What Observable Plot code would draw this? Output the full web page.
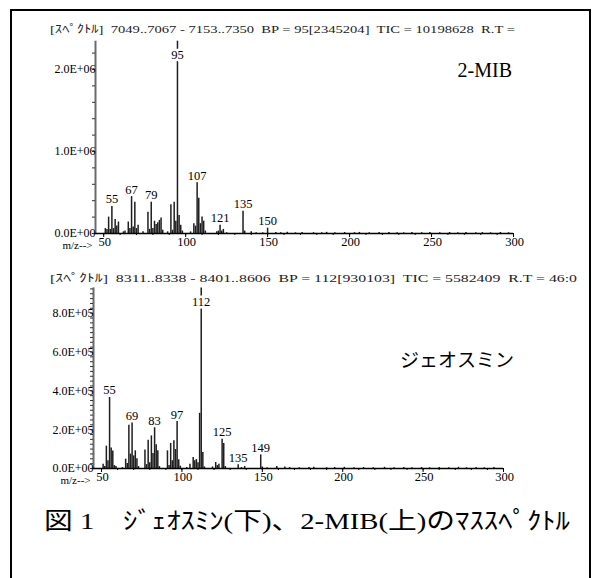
<!DOCTYPE html>
<html><head><meta charset="utf-8">
<script src="https://cdn.jsdelivr.net/npm/d3@7"></script>
<script src="https://cdn.jsdelivr.net/npm/@observablehq/plot@0.6"></script>
<style>
html,body{margin:0;padding:0;background:#fff;}
#wrap{position:relative;width:598px;height:578px;overflow:hidden;background:#fff;}
#frame{position:absolute;left:10px;top:9px;width:581px;height:620px;border:2px solid #000;box-sizing:border-box;}
.abs{position:absolute;left:0;}
svg{overflow:visible;}
</style></head><body>
<div id="wrap"><div id="frame"></div></div>
<script>
// ---------- data ----------
const xTicks = [50, 100, 150, 200, 250, 300];
const mibYTicks = [0, 1e6, 2e6];
const geoYTicks = [0, 2e5, 4e5, 6e5, 8e5];

const mibName = "2-MIB";
const mibHeader = "[ｽﾍﾟｸﾄﾙ]  7049..7067 - 7153..7350  BP = 95[2345204]  TIC = 10198628  R.T =";
const mibBP = 2345204;
const mibMz = [51,52,53,54,55,56,57,58,59,62,63,65,66,67,68,69,70,71,74,77,78,79,80,81,82,83,84,85,86,89,91,92,93,94,95,96,97,98,103,105,106,107,108,109,110,111,112,119,120,121,122,123,125,135,136,140,150,
  143,147,155,158,162,167,171,178,183,186,191,197,203,206,212,218,224,229,233,238,244,249,255,261,266,271,277,281,286,292,297];
const mibInt = [60000,50000,200000,50000,330000,60000,170000,90000,140000,20000,30000,140000,60000,450000,80000,380000,60000,100000,20000,260000,50000,380000,60000,150000,110000,130000,160000,190000,40000,20000,350000,40000,380000,150000,2345204,220000,100000,30000,20000,120000,90000,620000,430000,120000,200000,150000,30000,20000,30000,100000,30000,50000,10000,270000,30000,20000,65000,
  10000,8000,12000,10000,15000,8000,12000,10000,9000,14000,10000,12000,10000,13000,9000,11000,12000,10000,9000,13000,10000,11000,9000,12000,10000,13000,9000,11000,10000,12000,9000];
const mibLabels = [55, 67, 79, 107, 121, 135, 150];

const geoName = "ジェオスミン";
const geoHeader = "[ｽﾍﾟｸﾄﾙ]  8311..8338 - 8401..8606  BP = 112[930103]  TIC = 5582409  R.T = 46:0";
const geoBP = 930103;
const geoMz = [51,52,53,54,55,56,57,58,59,63,65,66,67,68,69,70,71,72,73,77,78,79,80,81,82,83,84,85,86,91,92,93,94,95,96,97,98,99,103,105,107,108,109,110,111,112,113,114,119,121,122,123,125,126,127,135,137,139,149,150,
  153,159,164,167,173,179,182,190,195,201,207,213,219,226,232,238,243,249,254,260,266,272,277,283,288,294];
const geoInt = [22000,10000,115000,40000,366000,105000,90000,15000,10000,5000,48000,26000,223000,74000,234000,65000,91000,50000,10000,95000,20000,146000,30000,168000,77000,210000,122000,91000,10000,91000,15000,129000,40000,143000,98000,242000,45000,12000,5000,22000,57000,40000,46000,30000,284000,930103,82000,8000,8000,31000,15000,22000,151000,129000,10000,19000,5000,10000,70000,8000,
  4000,10000,8000,5000,4000,5000,6000,4000,5000,6000,4000,5000,4000,6000,4000,5000,4000,5000,4000,5000,4000,6000,4000,5000,4000,5000];
const geoLabels = [55, 69, 83, 97, 125, 135, 149];

const xLabel = "m/z-->";
const caption = "図 1　ｼﾞｪｵｽﾐﾝ(下)、2-MIB(上)のﾏｽｽﾍﾟｸﾄﾙ";

// ---------- helpers ----------
const fmtE = v => {
  if (v === 0) return "0.0E+00";
  const e = Math.floor(Math.log10(v) + 1e-9);
  return (v / 10 ** e).toFixed(1) + "E+" + String(e).padStart(2, "0");
};
const serif = "'Liberation Serif','Noto Sans CJK JP',serif";

function panel({mz, ints, labels, bp, yTicks, minorStep, top, marginLeft, marginRight, marginTop, height, marginBottom}) {
  const data = mz.map((m, i) => ({mz: m, v: ints[i]}));
  const lab = data.filter(d => labels.includes(d.mz));
  const bpD = data.filter(d => d.v === bp);
  const minor = d3.range(0, bp, minorStep);
  const p = Plot.plot({
    width: 598, height, marginLeft, marginRight, marginTop, marginBottom,
    style: {fontFamily: serif, fontSize: "12px", background: "transparent", overflow: "visible"},
    x: {domain: [45, 300], axis: null},
    y: {domain: [0, bp], axis: null},
    marks: [
      Plot.ruleX(data, {x: "mz", y1: 0, y2: "v", stroke: "#1e1e1e", strokeWidth: 1.5}),
      Plot.ruleX([45], {y1: 0, y2: bp, stroke: "#6a6a6a", strokeWidth: 2}),
      Plot.axisY({ticks: minor, tickSize: 3, tickFormat: () => "", stroke: "#333", label: null}),
      Plot.axisY({ticks: yTicks, tickSize: 0, tickPadding: 0, tickFormat: fmtE, fontSize: 12, label: null}),
      Plot.ruleY([0], {x1: 45, x2: 300, stroke: "#000", strokeWidth: 1.5}),
      Plot.axisX({ticks: d3.range(50, 301, 10), tickSize: 2, tickFormat: () => "", label: null}),
      Plot.axisX({ticks: xTicks, tickSize: 4, tickFormat: () => "", label: null}),
      Plot.axisX({ticks: xTicks, tickSize: 0, tickPadding: 4, dx: 1, fontSize: 12.5, label: null}),
      Plot.text([xLabel], {x: () => 45, y: () => 0, dx: -3, dy: 12, textAnchor: "end", fontSize: 11}),
      Plot.text(lab, {x: "mz", y: "v", text: d => String(d.mz), dy: -7, fontSize: 12.5}),
      Plot.text(bpD, {x: "mz", y: "v", text: d => String(d.mz), dy: 14, fontSize: 12.5, stroke: "white", strokeWidth: 5, paintOrder: "stroke", fill: "black"})
    ]
  });
  p.classList.add("abs");
  p.style.top = top + "px";
  return p;
}

const wrap = document.getElementById("wrap");
wrap.appendChild(panel({mz: mibMz, ints: mibInt, labels: mibLabels, bp: mibBP, yTicks: mibYTicks, minorStep: 2e5,
  top: 0, marginLeft: 95, marginRight: 85, marginTop: 40.7, height: 253, marginBottom: 20}));
wrap.appendChild(panel({mz: geoMz, ints: geoInt, labels: geoLabels, bp: geoBP, yTicks: geoYTicks, minorStep: 2.5e4,
  top: 250, marginLeft: 93, marginRight: 95, marginTop: 37.4, height: 240, marginBottom: 22}));

// ---------- overlay texts ----------
const ns = "http://www.w3.org/2000/svg";
const ov = document.createElementNS(ns, "svg");
ov.setAttribute("width", 598); ov.setAttribute("height", 578);
ov.setAttribute("class", "abs"); ov.style.top = "0px";
function addText(str, x, y, size, opts = {}) {
  const t = document.createElementNS(ns, "text");
  t.textContent = str;
  t.setAttribute("x", x); t.setAttribute("y", y);
  t.setAttribute("font-size", size);
  t.setAttribute("font-family", opts.family || serif);
  t.setAttribute("fill", opts.fill || "#000");
  t.style.whiteSpace = "pre";
  if (opts.anchor) t.setAttribute("text-anchor", opts.anchor);
  if (opts.len) { t.setAttribute("textLength", opts.len); t.setAttribute("lengthAdjust", "spacingAndGlyphs"); }
  ov.appendChild(t);
}
addText(mibHeader, 50, 33, 11, {len: 465, fill: "#222"});
addText(geoHeader, 50, 282, 11, {len: 527, fill: "#222"});
addText(mibName, 512, 77, 20, {anchor: "end"});
addText(geoName, 514, 367, 19, {anchor: "end", family: "'Noto Sans CJK JP',sans-serif"});
addText(caption, 44, 529, 24, {len: 526});
wrap.appendChild(ov);
</script>
</body></html>
